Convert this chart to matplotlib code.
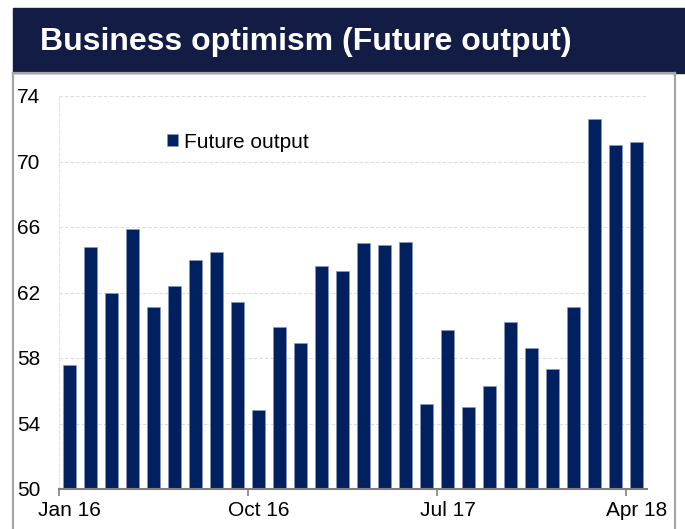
import numpy as np
import matplotlib.pyplot as plt
from matplotlib.patches import Rectangle
from matplotlib.lines import Line2D

plt.rcParams['font.family'] = ['Liberation Sans', 'DejaVu Sans']

# Monthly readings, Jan 16 .. Apr 18
months = ['Jan 16', 'Feb 16', 'Mar 16', 'Apr 16', 'May 16', 'Jun 16', 'Jul 16',
          'Aug 16', 'Sep 16', 'Oct 16', 'Nov 16', 'Dec 16', 'Jan 17', 'Feb 17',
          'Mar 17', 'Apr 17', 'May 17', 'Jun 17', 'Jul 17', 'Aug 17', 'Sep 17',
          'Oct 17', 'Nov 17', 'Dec 17', 'Jan 18', 'Feb 18', 'Mar 18', 'Apr 18']
future_output = [57.6, 64.8, 62.0, 65.9, 61.1, 62.4, 64.0, 64.5, 61.4, 54.8,
                 59.9, 58.9, 63.6, 63.3, 65.0, 64.9, 65.1, 55.2, 59.7, 55.0,
                 56.3, 60.2, 58.6, 57.3, 61.1, 72.6, 71.0, 71.2]
label_months = ['Jan 16', 'Oct 16', 'Jul 17', 'Apr 18']
y_ticks = [50, 54, 58, 62, 66, 70, 74]

W, H = 685, 529
fig = plt.figure(figsize=(W / 100, H / 100), dpi=100)

# title banner
fig.patches.append(Rectangle((13 / W, 1 - 73 / H), 1 - 13 / W, 65 / H,
                             transform=fig.transFigure, color='#131c45', zorder=0))
fig.text(40 / W, 1 - 42 / H, 'Business optimism (Future output)', color='white',
         fontsize=23, fontweight='bold', va='center', ha='left')

# grey frame round the chart
frame = '#a6a6a6'
for xs, ys in [([13, 13], [73, H]), ([675, 675], [73, H]), ([13, 675], [73, 73])]:
    fig.lines.append(Line2D([x / W for x in xs], [1 - y / H for y in ys],
                            transform=fig.transFigure, color=frame, lw=1.6))

ax = fig.add_axes([59 / W, (H - 489) / H, 588 / W, 393 / H])
x = np.arange(len(months)) + 0.5
ax.bar(x, future_output, width=0.63, color='#002060', edgecolor='#8a9ac0',
       linewidth=0.5, label='Future output', zorder=3)

ax.set_xlim(0, len(months))
ax.set_ylim(50, 74)
ax.set_yticks(y_ticks)
ax.tick_params(axis='y', length=0, pad=13.5, labelsize=15)
ax.grid(axis='y', color='#dcdcdc', linestyle=(0, (3, 2)), linewidth=0.8, zorder=0)

# ticks between categories, labels centred on them
idx = [months.index(m) for m in label_months]
ax.set_xticks(idx)
ax.set_xticklabels([])
ax.set_xticks([i + 0.5 for i in idx], minor=True)
ax.set_xticklabels(label_months, minor=True)
ax.tick_params(axis='x', which='major', direction='out', length=5, width=1.2, color='#808080')
ax.tick_params(axis='x', which='minor', length=0, pad=9, labelsize=15)

for s in ['top', 'right']:
    ax.spines[s].set_visible(False)
ax.spines['left'].set_color('#e4e4e4')
ax.spines['left'].set_linestyle((0, (3, 2)))
ax.spines['left'].set_linewidth(0.8)
ax.spines['bottom'].set_color('#808080')
ax.spines['bottom'].set_linewidth(1.5)
ax.spines['bottom'].set_zorder(4)

ax.legend(loc='upper left', bbox_to_anchor=(0.183, 0.907), frameon=False,
          fontsize=15, handlelength=0.55, handleheight=0.55, handletextpad=0.3,
          borderaxespad=0, borderpad=0)

fig.savefig('out.png', dpi=100)
